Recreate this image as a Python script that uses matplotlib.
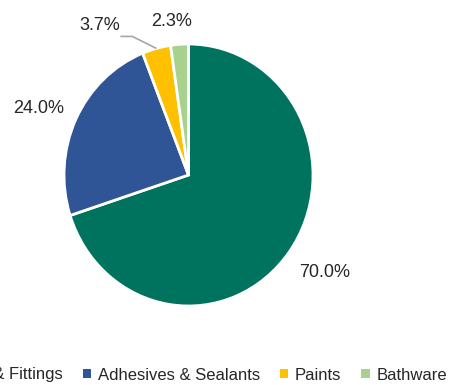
import numpy as np
import matplotlib as mpl
mpl.use('Agg')
from matplotlib import pyplot as plt
from matplotlib.patches import Patch

plt.rcParams['font.family'] = ['Liberation Sans Narrow', 'Liberation Sans', 'DejaVu Sans']

categories = ['Pipes & Fittings', 'Adhesives & Sealants', 'Paints', 'Bathware']
shares = [70.0, 24.0, 3.7, 2.3]
colors = ['#00735f', '#2f5597', '#ffc000', '#a9d18e']

W, H = 454, 385
cx, cy = 188.5, 175      # pie centre in pixels from top-left
rx, ry = 124.5, 131      # pie radii in pixels

# label distance from centre (in radii) and a small nudge in pixels
label_dist = [1.31, 1.31, 1.0, 1.18]
label_nudge = [(4, 3), (-2, -7), (-57, 23), (-6, -1)]

fig = plt.figure(figsize=(W / 100, H / 100), dpi=100)
ax = fig.add_axes([0, 0, 1, 1])

wedges, _ = ax.pie(shares, colors=colors, startangle=90, counterclock=False,
                   wedgeprops=dict(edgecolor='white', linewidth=2))
ax.set_aspect('auto')
ax.set_xlim(-cx / rx, (W - cx) / rx)
ax.set_ylim(-(H - cy) / ry, cy / ry)
ax.axis('off')

for w, val, d, (nx, ny) in zip(wedges, shares, label_dist, label_nudge):
    mid = np.deg2rad((w.theta1 + w.theta2) / 2)
    x, y = np.cos(mid) * d, np.sin(mid) * d
    tx, ty = x + nx / rx, y + ny / ry
    if val < 3 or val > 20:
        ax.text(tx, ty, '%.1f%%' % val, ha='center', va='center', fontsize=13, color='#262626')
    else:
        # small slice: label pushed up-left with an elbow leader line
        ex, ey = x, y
        kx, ky = ex - 24 / rx, ey + 12 / ry
        ax.plot([ex, kx, kx - 12 / rx], [ey, ky, ky],
                color='#a6a6a6', lw=1.2, solid_capstyle='butt')
        ax.text(tx, ty, '%.1f%%' % val, ha='center', va='center', fontsize=13, color='#262626')

handles = [Patch(facecolor=c, edgecolor='none') for c in colors]
fig.legend(handles, categories, loc='center right', bbox_to_anchor=(447 / W, 1 - 375 / H),
           ncol=4, frameon=False, fontsize=12, handlelength=0.5, handleheight=0.5,
           handletextpad=0.4, columnspacing=1.2, labelcolor='#262626',
           borderaxespad=0, borderpad=0)

fig.savefig('out.png', dpi=100)
